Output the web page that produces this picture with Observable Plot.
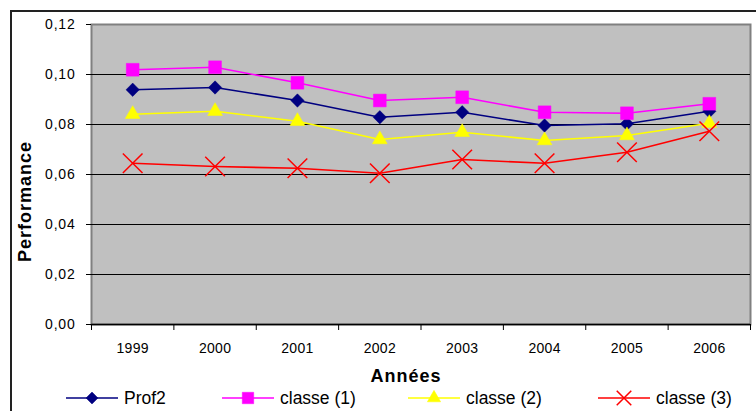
<!DOCTYPE html>
<html>
<head>
<meta charset="utf-8">
<script src="https://cdn.jsdelivr.net/npm/d3@7"></script>
<script src="https://cdn.jsdelivr.net/npm/@observablehq/plot@0.6"></script>
<style>
  html, body { margin: 0; padding: 0; background: #fff; overflow: hidden; }
  #wrap { position: relative; width: 756px; height: 411px; overflow: hidden; font-family: "Liberation Sans", Arial, sans-serif; }
  #frame { position: absolute; left: 10px; top: 10px; width: 760px; height: 420px; border: 2px solid #222; box-sizing: border-box; }
  #chart { position: absolute; left: 0; top: 0; }
  #legend { position: absolute; left: 0; top: 385px; width: 756px; height: 26px; }
  .item { position: absolute; top: 0; height: 26px; display: flex; align-items: center; font-size: 17.5px; color: #000; white-space: nowrap; }
  .item svg { display: block; margin-right: 5px; }
</style>
</head>
<body>
<div id="wrap">
  <div id="frame"></div>
  <div id="chart"></div>
  <div id="legend"></div>
</div>
<script>
const years = [1999, 2000, 2001, 2002, 2003, 2004, 2005, 2006];
const prof2   = [0.0939, 0.0948, 0.0896, 0.0829, 0.0849, 0.0796, 0.0803, 0.0853];
const classe1 = [0.1019, 0.1029, 0.0967, 0.0896, 0.0909, 0.0849, 0.0845, 0.0883];
const classe2 = [0.0841, 0.0853, 0.0813, 0.0740, 0.0769, 0.0736, 0.0756, 0.0805];
const classe3 = [0.0645, 0.0632, 0.0625, 0.0605, 0.0660, 0.0645, 0.0689, 0.0773];
const yTicks = [0, 0.02, 0.04, 0.06, 0.08, 0.10, 0.12];
const seriesNames = ["Prof2", "classe (1)", "classe (2)", "classe (3)"];

const styles = [
  {color: "#000080", symbol: "diamond2", r: 6.0, filled: true},
  {color: "#FF00FF", symbol: "square", r: 7.2, filled: true},
  {color: "#FFFF00", symbol: "triangle", r: 5.5, filled: true},
  {color: "#FF0000", symbol: "times", r: 9.0, filled: false}
];
const values = [prof2, classe1, classe2, classe3];

const fmt = d => d3.format(".2f")(d).replace(".", ",");
const font = "Liberation Sans, Arial, sans-serif";

const marks = [
  Plot.frame({fill: "#C0C0C0", stroke: "#808080", strokeWidth: 2}),
  Plot.ruleY(yTicks.slice(1, -1), {stroke: "#000", strokeWidth: 1}),
  Plot.ruleY([0], {stroke: "#000", strokeWidth: 1.5}),
  Plot.axisY({ticks: yTicks, tickFormat: fmt, tickSize: 5, tickPadding: 11, fontSize: 14, stroke: "#000", label: null}),
  Plot.axisX({ticks: years, tickFormat: d => String(d), tickSize: 0, tickPadding: 19, fontSize: 14, label: null}),
  Plot.axisX({ticks: d3.range(years[0] - 0.5, years[years.length - 1] + 1, 1), tickFormat: () => "", tickSize: 6, stroke: "#000", label: null})
];

values.forEach((vals, i) => {
  const data = years.map((y, j) => ({year: y, v: vals[j]}));
  const s = styles[i];
  marks.push(Plot.line(data, {x: "year", y: "v", stroke: s.color, strokeWidth: 1.6}));
  marks.push(Plot.dot(data, {
    x: "year", y: "v", symbol: () => s.symbol, r: s.r,
    fill: s.filled ? s.color : "none",
    stroke: s.color,
    strokeWidth: s.filled ? 0.5 : 1.5
  }));
});

marks.push(Plot.text(["Performance"], {frameAnchor: "left", dx: -66, dy: 27, rotate: -90, fontSize: 18, fontWeight: "bold", textAnchor: "middle", lineAnchor: "middle", fill: "#000"}));
marks.push(Plot.text(["Années"], {frameAnchor: "bottom", dx: -15, dy: 52, fontSize: 18, fontWeight: "bold", textAnchor: "middle", lineAnchor: "middle", fill: "#000"}));

const chart = Plot.plot({
  width: 756,
  height: 385,
  marginLeft: 91,
  marginRight: 6,
  marginTop: 24,
  marginBottom: 61,
  style: {fontFamily: font, background: "transparent", overflow: "visible"},
  x: {type: "linear", domain: [years[0] - 0.5, years[years.length - 1] + 0.5]},
  y: {domain: [yTicks[0], yTicks[yTicks.length - 1]]},
  marks
});
chart.querySelectorAll("text").forEach(t => {
  const s = t.textContent;
  if (s === "Années" || s === "Performance") t.style.letterSpacing = "1px";
  else if (s.includes(",")) t.style.letterSpacing = "0.8px";
  else t.style.letterSpacing = "0.3px";
});
document.getElementById("chart").appendChild(chart);

// Legend
const legendX = [66, 222, 408, 598];
const legend = document.getElementById("legend");
const symMap = {diamond2: d3.symbolDiamond2, square: d3.symbolSquare, triangle: d3.symbolTriangle, times: d3.symbolTimes};
seriesNames.forEach((name, i) => {
  const s = styles[i];
  const item = document.createElement("div");
  item.className = "item";
  item.style.left = legendX[i] + "px";
  const svg = d3.create("svg").attr("width", 53).attr("height", 26);
  svg.append("line").attr("x1", 0).attr("x2", 52).attr("y1", 13).attr("y2", 13).attr("stroke", s.color).attr("stroke-width", 1.6);
  const sz = Math.PI * s.r * s.r * (s.symbol === "times" ? 0.55 : 0.8);
  svg.append("path").attr("transform", "translate(26,13)")
    .attr("d", d3.symbol(symMap[s.symbol], sz)())
    .attr("fill", s.filled ? s.color : "none")
    .attr("stroke", s.color)
    .attr("stroke-width", s.filled ? 0.5 : 1.5);
  item.appendChild(svg.node());
  const span = document.createElement("span");
  span.textContent = name;
  item.appendChild(span);
  legend.appendChild(item);
});
</script>
</body>
</html>
